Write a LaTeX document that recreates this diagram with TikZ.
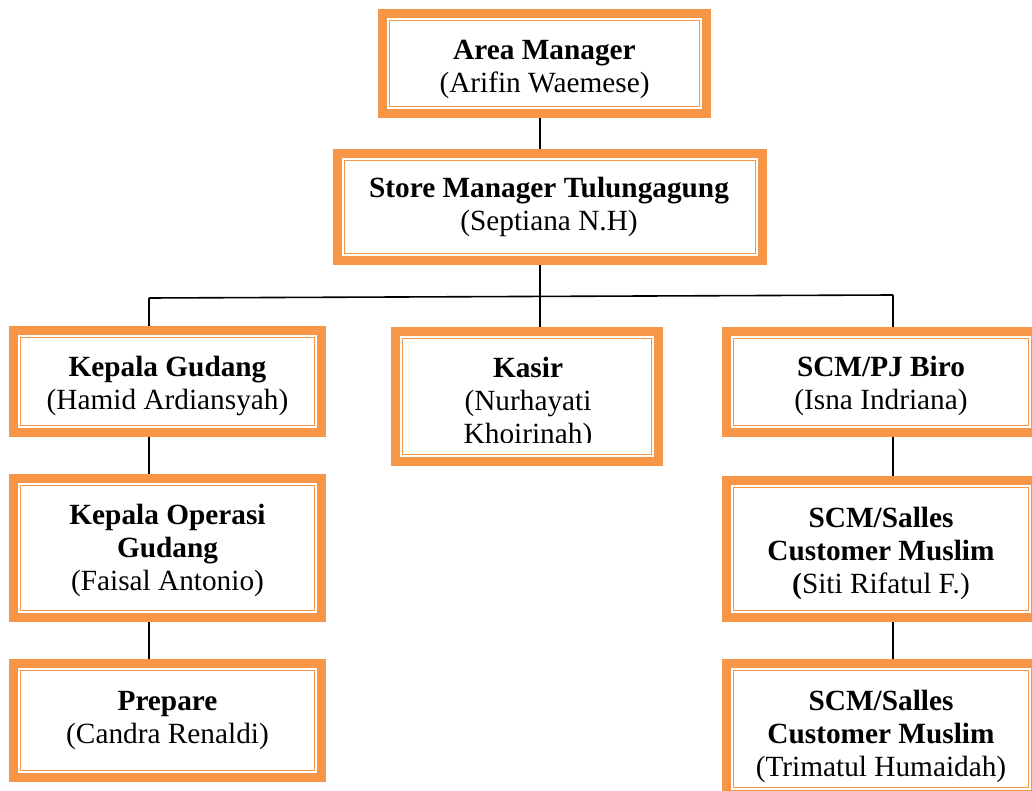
\documentclass[tikz,border=0pt]{standalone}
\usepackage{fontspec}
\setmainfont{Liberation Serif}
\usetikzlibrary{backgrounds}
\definecolor{org}{HTML}{F79646}
\tikzset{
  orgbox/.style={draw=org, fill=white, line width=9pt, inner sep=0pt, outer sep=0pt,
    path picture={\draw[draw=org,line width=1.8pt]
      ([shift={(7pt,7pt)}]path picture bounding box.south west) rectangle
      ([shift={(-7pt,-7pt)}]path picture bounding box.north east);}},
  lbl/.style={anchor=base, inner sep=0pt, font=\fontsize{29.3}{33}\selectfont},
  conn/.style={draw=black, line width=1.6pt}
}
\newcommand{\tb}[1]{\begin{tabular}[t]{@{}c@{}}#1\end{tabular}}
\begin{document}
\begin{tikzpicture}[x=1pt,y=-1pt]
\useasboundingbox (0,0) rectangle (1032,791);
\clip (0,0) rectangle (1032,791);
% boxes
\node[orgbox, minimum width=324pt, minimum height=100pt] (am) at (544.5,63.5) {};
\node[orgbox, minimum width=425pt, minimum height=107pt] (sm) at (550,207) {};
\node[orgbox, minimum width=308pt, minimum height=102pt] (kg) at (167.5,381.5) {};
\node[orgbox, minimum width=263pt, minimum height=130pt] (ks) at (527,396.5) {};
\node[orgbox, minimum width=309pt, minimum height=101pt] (pj) at (881,382) {};
\node[orgbox, minimum width=308pt, minimum height=139pt] (ko) at (167.5,548) {};
\node[orgbox, minimum width=309pt, minimum height=137pt] (s1) at (881,549) {};
\node[orgbox, minimum width=308pt, minimum height=114pt] (pr) at (167.5,720.5) {};
\node[orgbox, minimum width=309pt, minimum height=131pt] (s2) at (881,729) {};
% bus coordinates
\coordinate (busL) at (149,298);
\coordinate (busM) at (540,296.3);
\coordinate (busR) at (893,295);
% connectors
\begin{scope}[on background layer]
\draw[conn] (am.south -| busM) -- (sm.north -| busM);
\draw[conn] (sm.south -| busM) -- (busM);
\draw[conn] (busL) -- (busR);
\draw[conn] (busL) -- (kg.north -| busL);
\draw[conn] (busM) -- (ks.north -| busM);
\draw[conn] (busR) -- (pj.north -| busR);
\draw[conn] (kg.south -| busL) -- (ko.north -| busL);
\draw[conn] (ko.south -| busL) -- (pr.north -| busL);
\draw[conn] (pj.south -| busR) -- (s1.north -| busR);
\draw[conn] (s1.south -| busR) -- (s2.north -| busR);
\end{scope}
% labels
\node[lbl] (tam) at (544.5,60) {\tb{\textbf{Area Manager}\\(Arifin Waemese)}};
\node[lbl] (tsm) at (549,198) {\tb{\textbf{Store Manager Tulungagung}\\(Septiana N.H)}};
\node[lbl] (tkg) at (167.5,376) {\tb{\textbf{Kepala Gudang}\\(Hamid Ardiansyah)}};
\begin{scope}
\clip (391,327) rectangle (663,442);
\node[lbl] (tks) at (528,377) {\tb{\textbf{Kasir}\\(Nurhayati\\Khoirinah)}};
\end{scope}
\node[lbl] (tpj) at (881,376) {\tb{\textbf{SCM/PJ Biro}\\(Isna Indriana)}};
\node[lbl] (tko) at (167.5,524) {\tb{\textbf{Kepala Operasi}\\\textbf{Gudang}\\(Faisal Antonio)}};
\node[lbl] (ts1) at (881,527) {\tb{\textbf{SCM/Salles}\\\textbf{Customer Muslim}\\\textbf{(}Siti Rifatul F.)}};
\node[lbl] (tpr) at (167.5,710) {\tb{\textbf{Prepare}\\(Candra Renaldi)}};
\node[lbl] (ts2) at (881,710) {\tb{\textbf{SCM/Salles}\\\textbf{Customer Muslim}\\(Trimatul Humaidah)}};
\end{tikzpicture}
\end{document}
